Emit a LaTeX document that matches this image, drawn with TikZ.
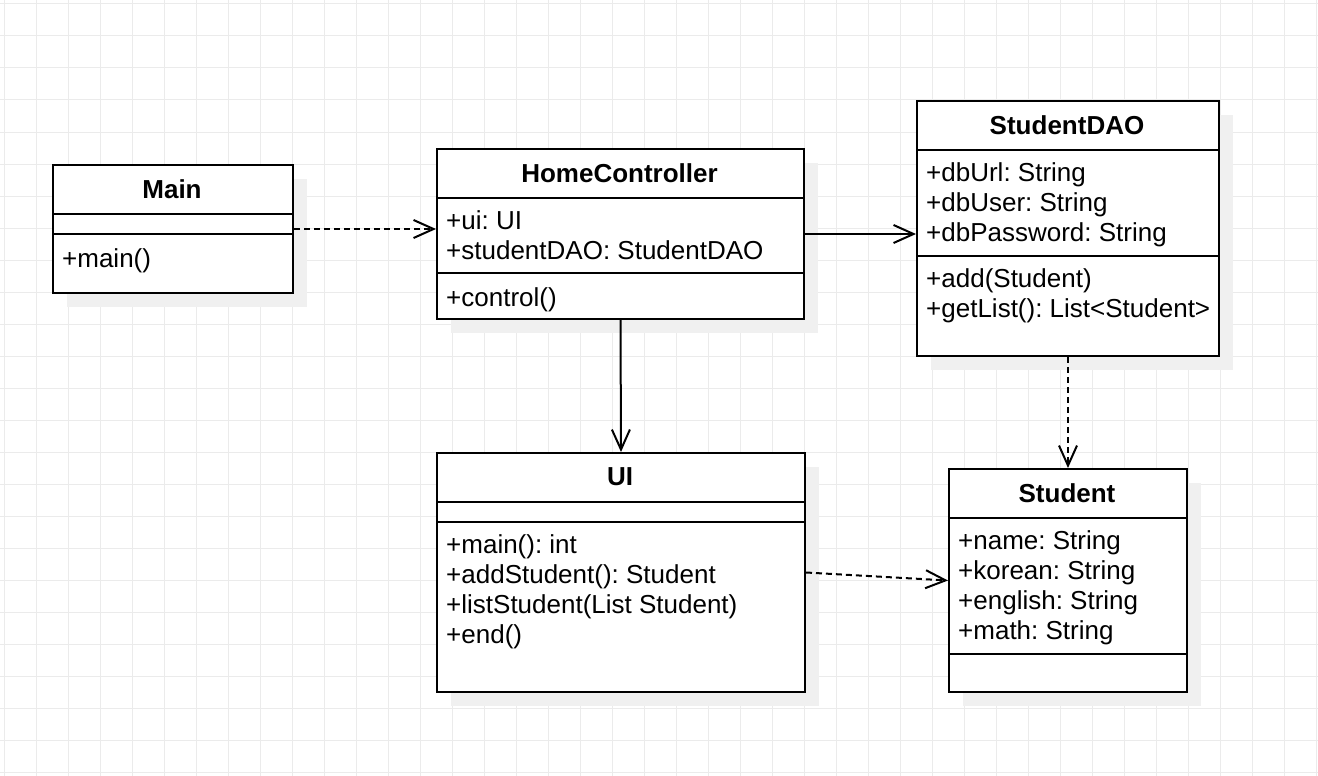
\documentclass[tikz,border=0pt]{standalone}
\usepackage{fontspec}
\setmainfont{Liberation Sans}
\usetikzlibrary{arrows.meta,shadows}
\newcommand{\umlfont}{\fontsize{26}{30}\selectfont\frenchspacing}

\begin{document}
\begin{tikzpicture}[
        x=1pt, y=-1pt,
        grid_line/.style={draw=black!8, line width=1pt},
        class_box/.style={draw, line width=2pt, fill=white, anchor=north west, inner sep=0pt,
            drop shadow={shadow xshift=14pt, shadow yshift=-14pt, fill=black!6, opacity=1}},
        class_line/.style={line width=2pt},
        class_title/.style={font=\umlfont\bfseries, inner sep=0pt},
        member/.style={font=\umlfont, anchor=north west, align=left, inner sep=0pt, execute at begin node=\strut},
        assoc/.style={line width=2pt, -{Straight Barb[length=20pt, width=18pt]}},
        depend/.style={assoc, dash pattern=on 6pt off 4pt} % dashed dependency
    ]

    % --- Background Grid ---
    \fill[white] (0,0) rectangle (1318,776);
    \useasboundingbox (0,0) rectangle (1318,776);
    \foreach \gx in {4,36,...,1316} \draw[grid_line] (\gx,0) -- (\gx,776);
    \foreach \gy in {4,36,...,772} \draw[grid_line] (0,\gy) -- (1318,\gy);

    % --- Define Classes ---
    \node[class_box, minimum width=240, minimum height=128] (main) at (52,164) {};
    \node[class_box, minimum width=367, minimum height=170] (hc) at (436,148) {};
    \node[class_box, minimum width=302, minimum height=255] (dao) at (916,100) {};
    \node[class_box, minimum width=368, minimum height=239] (ui) at (436,452) {};
    \node[class_box, minimum width=238, minimum height=223] (stu) at (948,468) {};

    % Compartment lines
    \draw[class_line] (main.west |- 0,214) -- (main.east |- 0,214);
    \draw[class_line] (main.west |- 0,234) -- (main.east |- 0,234);
    \draw[class_line] (hc.west |- 0,198) -- (hc.east |- 0,198);
    \draw[class_line] (hc.west |- 0,273) -- (hc.east |- 0,273);
    \draw[class_line] (dao.west |- 0,150) -- (dao.east |- 0,150);
    \draw[class_line] (dao.west |- 0,256) -- (dao.east |- 0,256);
    \draw[class_line] (ui.west |- 0,502) -- (ui.east |- 0,502);
    \draw[class_line] (ui.west |- 0,522) -- (ui.east |- 0,522);
    \draw[class_line] (stu.west |- 0,518) -- (stu.east |- 0,518);
    \draw[class_line] (stu.west |- 0,654) -- (stu.east |- 0,654);

    % --- Class Names ---
    \node[class_title] (main_name) at (172,189) {Main};
    \node[class_title] (hc_name) at (619.5,173) {HomeController};
    \node[class_title] (dao_name) at (1067,125) {StudentDAO};
    \node[class_title] (ui_name) at (620,477) {UI};
    \node[class_title] (stu_name) at (1067,493) {Student};

    % --- Attributes and Methods ---
    \node[member] (main_ops) at (62,246) {+main()};
    \node[member] (hc_attr) at (446,210) {+ui: UI\\+studentDAO: StudentDAO};
    \node[member] (hc_ops) at (446,285) {+control()};
    \node[member] (dao_attr) at (926,162) {+dbUrl: String\\+dbUser: String\\+dbPassword: String};
    \node[member] (dao_ops) at (926,268) {+add(Student)\\+getList(): List<Student>};
    \node[member] (ui_ops) at (446,534) {+main(): int\\+addStudent(): Student\\+listStudent(List Student)\\+end()};
    \node[member] (stu_attr) at (958,530) {+name: String\\+korean: String\\+english: String\\+math: String};

    % --- Relations ---
    \draw[depend] (main.east) -- (main.east -| hc.west);
    \draw[assoc] (hc.east) -- (hc.east -| dao.west);
    \draw[assoc] (hc.south) -- (ui.north);
    \draw[depend] (dao.south) -- (stu.north);
    \draw[depend] (ui.east) -- (stu.west);

\end{tikzpicture}
\end{document}
